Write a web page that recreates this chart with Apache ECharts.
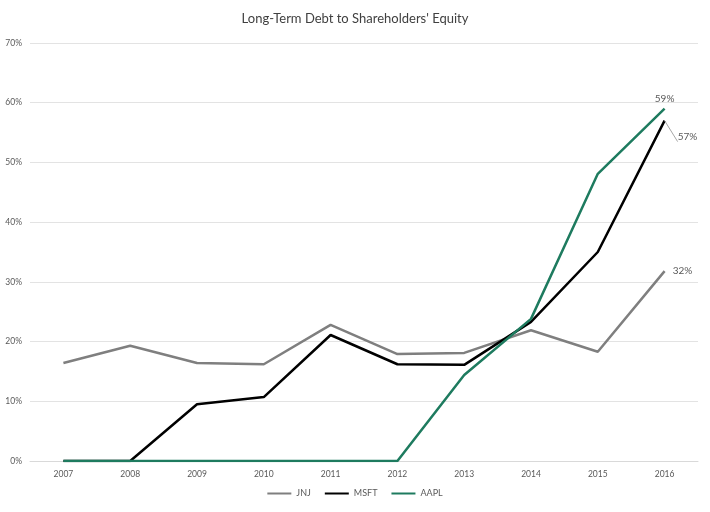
<!DOCTYPE html>
<html>
<head>
<meta charset="utf-8">
<script src="https://cdn.jsdelivr.net/npm/echarts@6/dist/echarts.min.js"></script>
<style>html,body{margin:0;padding:0;background:#fff}#c{width:710px;height:512px}</style>
</head>
<body>
<div id="c"></div>
<script>
const years = ['2007','2008','2009','2010','2011','2012','2013','2014','2015','2016'];
const jnj  = [16.4, 19.3, 16.4, 16.2, 22.8, 17.9, 18.1, 21.9, 18.3, 31.8];
const msft = [0, 0, 9.5, 10.7, 21.1, 16.2, 16.1, 23.3, 35.0, 57.0];
const aapl = [0, 0, 0, 0, 0, 0, 14.4, 23.8, 48.1, 59.0];
const yTicks = [0, 10, 20, 30, 40, 50, 60, 70];

const chart = echarts.init(document.getElementById('c'));
const font = 'Lato, "Open Sans", sans-serif';
function withLast(arr, labelCfg) {
  return arr.map((v, i) => i === arr.length - 1 ? { value: v, label: Object.assign({ show: true, formatter: p => Math.round(p.value) + '%', color: '#595959', fontSize: 10, fontFamily: font }, labelCfg.label), labelLine: labelCfg.labelLine } : v);
}
const common = { type: 'line', symbol: 'circle', symbolSize: 0.1, showSymbol: true };
chart.setOption({
  animation: false,
  title: { text: "Long-Term Debt to Shareholders' Equity", left: 'center', top: 7,
    textStyle: { fontSize: 13, fontWeight: 'normal', color: '#404040', fontFamily: font } },
  grid: { left: 30, right: 12, top: 43, bottom: 51 },
  legend: { bottom: 9, itemWidth: 24, itemHeight: 2, itemGap: 14, icon: 'rect',
    textStyle: { fontSize: 9, color: '#595959', fontFamily: font },
    data: ['JNJ', 'MSFT', 'AAPL'] },
  xAxis: { type: 'category', data: years, boundaryGap: true,
    axisLine: { lineStyle: { color: '#d9d9d9' } }, axisTick: { show: false },
    axisLabel: { fontSize: 8.5, color: '#595959', margin: 9, fontFamily: font } },
  yAxis: { type: 'value', min: yTicks[0], max: yTicks[yTicks.length - 1], interval: 10,
    axisLabel: { formatter: '{value}%', fontSize: 8.5, color: '#595959', margin: 8, fontFamily: font },
    splitLine: { lineStyle: { color: '#e3e3e3' } }, axisLine: { show: false }, axisTick: { show: false } },
  series: [
    Object.assign({ name: 'JNJ', color: '#7f7f7f', lineStyle: { width: 2.5, color: '#7f7f7f' },
      data: withLast(jnj, { label: { position: 'right', distance: 8 } }) }, common),
    Object.assign({ name: 'MSFT', color: '#000000', lineStyle: { width: 2.5, color: '#000000' },
      data: withLast(msft, { label: { position: 'right', distance: 4, offset: [9, 16] }, labelLine: { show: true, lineStyle: { color: '#a6a6a6', width: 1 } } }) }, common),
    Object.assign({ name: 'AAPL', color: '#1e7b5f', lineStyle: { width: 2.5, color: '#1e7b5f' },
      data: withLast(aapl, { label: { position: 'top', distance: 5 } }) }, common)
  ]
});
</script>
</body>
</html>
